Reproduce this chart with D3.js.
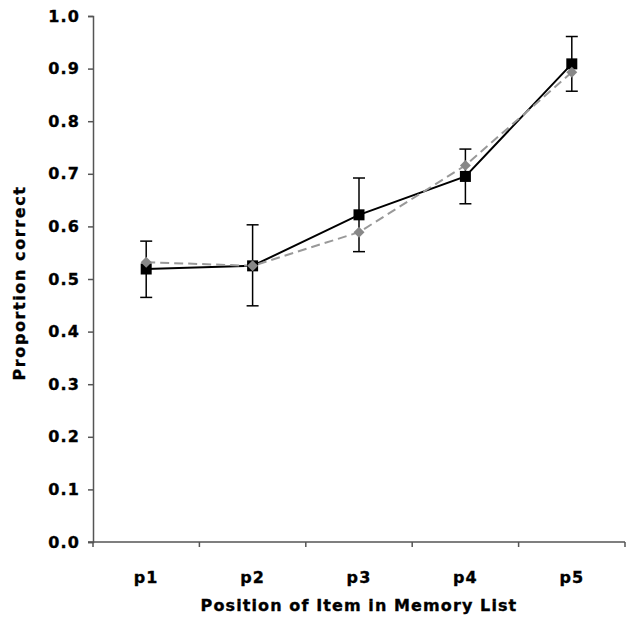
<!DOCTYPE html>
<html>
<head>
<meta charset="utf-8">
<script src="https://cdn.jsdelivr.net/npm/d3@7"></script>
<style>
  body { margin: 0; background: #fff; }
  text { font-family: "DejaVu Sans", Verdana, sans-serif; font-weight: bold; letter-spacing: 1.1px;
         stroke: #000; stroke-width: 0.35px; }
</style>
</head>
<body>
<div id="chart"></div>
<script>
const width = 627;
const height = 622;

const categories = ["p1", "p2", "p3", "p4", "p5"];
const blackValues = [0.519, 0.525, 0.622, 0.695, 0.909];
const errUpper = [0.572, 0.603, 0.692, 0.747, 0.961];
const errLower = [0.465, 0.449, 0.552, 0.643, 0.857];
const grayValues = [0.532, 0.525, 0.589, 0.716, 0.893];
const yTicks = [0, 0.1, 0.2, 0.3, 0.4, 0.5, 0.6, 0.7, 0.8, 0.9, 1.0];

const margin = { top: 16, left: 93, right: 2, bottom: 80 };
const fontSize = "16px";

const svg = d3.select("#chart").append("svg")
    .attr("width", width)
    .attr("height", height);

const x = d3.scaleBand()
    .domain(categories)
    .range([margin.left, width - margin.right])
    .padding(0);

const y = d3.scaleLinear()
    .domain([0, 1])
    .range([height - margin.bottom, margin.top]);

// y axis
const yAxis = svg.append("g")
    .attr("transform", `translate(${margin.left},0)`)
    .call(d3.axisLeft(y).tickValues(yTicks).tickFormat(d3.format(".1f")).tickSize(5).tickPadding(8));
yAxis.select(".domain").attr("stroke", "#555").attr("stroke-width", 1.5);
yAxis.selectAll(".tick line").attr("stroke", "#555").attr("stroke-width", 1.5);
yAxis.selectAll("text").style("font-size", fontSize).attr("fill", "#000");

// x axis with ticks at category boundaries
const xAxisG = svg.append("g")
    .attr("transform", `translate(0,${y(0)})`);
xAxisG.append("line")
    .attr("x1", margin.left - 5).attr("x2", width - margin.right)
    .attr("stroke", "#555").attr("stroke-width", 1.5);
const boundaries = categories.map(c => x(c)).concat([x.range()[1]]);
xAxisG.selectAll(".bt")
    .data(boundaries)
    .join("line")
    .attr("x1", d => d).attr("x2", d => d)
    .attr("y1", 0).attr("y2", 5)
    .attr("stroke", "#555").attr("stroke-width", 1.5);
xAxisG.selectAll(".lbl")
    .data(categories)
    .join("text")
    .attr("x", d => x(d) + x.bandwidth() / 2)
    .attr("y", 41)
    .attr("text-anchor", "middle")
    .style("font-size", fontSize)
    .text(d => d);

// axis titles
svg.append("text")
    .attr("x", (margin.left + width - margin.right) / 2)
    .attr("y", 611)
    .attr("text-anchor", "middle")
    .style("font-size", fontSize)
    .text("Position of Item in Memory List");

svg.append("text")
    .attr("transform", `translate(25,${(y(0) + y(1)) / 2 + 4}) rotate(-90)`)
    .attr("text-anchor", "middle")
    .style("font-size", fontSize)
    .style("letter-spacing", "1.6px")
    .text("Proportion correct");

const cx = c => x(c) + x.bandwidth() / 2;

// error bars
const eb = svg.append("g");
categories.forEach((c, i) => {
    eb.append("line")
        .attr("x1", cx(c)).attr("x2", cx(c))
        .attr("y1", y(errUpper[i])).attr("y2", y(errLower[i]))
        .attr("stroke", "#000").attr("stroke-width", 1.5);
    [errUpper[i], errLower[i]].forEach(v => {
        eb.append("line")
            .attr("x1", cx(c) - 6).attr("x2", cx(c) + 6)
            .attr("y1", y(v)).attr("y2", y(v))
            .attr("stroke", "#000").attr("stroke-width", 1.5);
    });
});

const line = d3.line()
    .x((d, i) => cx(categories[i]))
    .y(d => y(d));

svg.append("path")
    .datum(blackValues)
    .attr("d", line)
    .attr("fill", "none")
    .attr("stroke", "#000")
    .attr("stroke-width", 2);

svg.append("path")
    .datum(grayValues)
    .attr("d", line)
    .attr("fill", "none")
    .attr("stroke", "#999")
    .attr("stroke-width", 2)
    .attr("stroke-dasharray", "9,5");

svg.selectAll(".sq")
    .data(blackValues)
    .join("rect")
    .attr("x", (d, i) => cx(categories[i]) - 5.5)
    .attr("y", d => y(d) - 5.5)
    .attr("width", 11)
    .attr("height", 11)
    .attr("fill", "#000");

svg.selectAll(".dm")
    .data(grayValues)
    .join("path")
    .attr("d", d3.symbol(d3.symbolSquare, 60))
    .attr("transform", (d, i) => `translate(${cx(categories[i])},${y(d)}) rotate(45)`)
    .attr("fill", "#888");
</script>
</body>
</html>
